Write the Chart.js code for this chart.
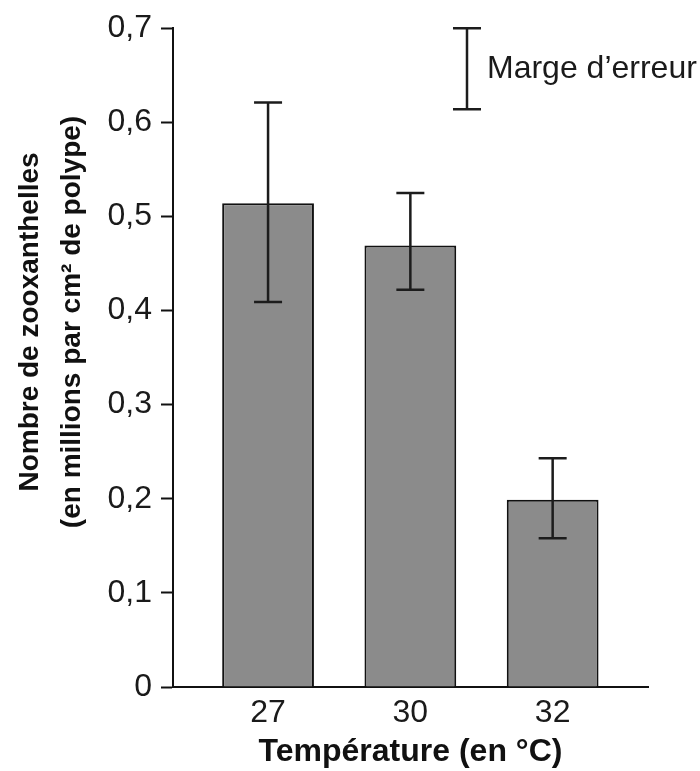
<!DOCTYPE html>
<html lang="fr">
  <head>
    <meta charset="UTF-8" />
    <title>Zooxanthelles</title>
    <style>
      body { margin: 0; background: #fff; }
      #box { width: 700px; height: 771px; }
    </style>
  </head>
  <body>
    <div id="box"><canvas id="graphe"></canvas></div>
    <script src="https://cdn.jsdelivr.net/npm/chart.js"></script>
    <script>
      // donnees
      var temperatures = ["27", "30", "32"];
      var moyennes = [0.514, 0.469, 0.199];
      var erreurHaut = [0.621, 0.525, 0.243];
      var erreurBas = [0.409, 0.422, 0.158];
      var ticksY = [0, 0.1, 0.2, 0.3, 0.4, 0.5, 0.6, 0.7];
      var titreY = ["Nombre de zooxanthelles", "(en millions par cm² de polype)"];

      var police = "'Liberation Sans', Arial, sans-serif";
      Chart.defaults.font.family = police;
      Chart.defaults.color = "#1a1a1a";

      function trait(ctx, px, haut, bas) {
        ctx.beginPath();
        ctx.moveTo(px, haut);
        ctx.lineTo(px, bas);
        ctx.moveTo(px - 14, haut);
        ctx.lineTo(px + 14, haut);
        ctx.moveTo(px - 14, bas);
        ctx.lineTo(px + 14, bas);
        ctx.stroke();
      }

      // barres d'erreur dessinees a partir des echelles
      const barresErreur = {
        id: "barresErreur",
        afterDatasetsDraw(chart) {
          const ctx = chart.ctx;
          const x = chart.scales.x;
          const y = chart.scales.y;
          ctx.save();
          ctx.strokeStyle = "#1c1c1c";
          ctx.lineWidth = 2.5;
          for (var i = 0; i < temperatures.length; i++) {
            trait(ctx, x.getPixelForValue(i), y.getPixelForValue(erreurHaut[i]), y.getPixelForValue(erreurBas[i]));
          }
          ctx.restore();
        },
      };

      // legende "Marge d'erreur" + titre de l'axe y
      const textes = {
        id: "textes",
        afterDraw(chart) {
          const ctx = chart.ctx;
          const zone = chart.chartArea;
          var px = zone.right - 181;
          ctx.save();
          ctx.strokeStyle = "#1c1c1c";
          ctx.lineWidth = 2.5;
          trait(ctx, px, zone.top, zone.top + 81);
          ctx.fillStyle = "#1a1a1a";
          ctx.font = "32px " + police;
          ctx.textBaseline = "alphabetic";
          ctx.fillText("Marge d\u2019erreur", px + 20, zone.top + 50);

          // titre y sur deux lignes, un peu au-dessus du centre
          ctx.translate(0, 322);
          ctx.rotate(-Math.PI / 2);
          ctx.fillStyle = "#111";
          ctx.font = "bold 28px " + police;
          ctx.textAlign = "center";
          ctx.textBaseline = "middle";
          ctx.fillText(titreY[0], 0, 30);
          ctx.fillText(titreY[1], 0, 72);
          ctx.restore();
        },
      };

      const data = {
        datasets: [
          {
            label: "Nombre de zooxanthelles",
            data: moyennes.map(function (v, i) { return { x: i, y: v }; }),
            backgroundColor: "#8b8b8b",
            borderColor: "#111",
            borderWidth: 2,
            categoryPercentage: 1,
            barPercentage: 0.645,
          },
        ],
      };

      const config = {
        type: "bar",
        data: data,
        options: {
          responsive: true,
          maintainAspectRatio: false,
          animation: false,
          layout: { padding: { top: 24, right: 52, left: 0, bottom: 0 } },
          plugins: {
            legend: { display: false },
            tooltip: { enabled: false },
          },
          scales: {
            x: {
              type: "linear",
              offset: false,
              min: -0.668,
              max: 2.67,
              afterBuildTicks: function (scale) {
                scale.ticks = temperatures.map(function (t, i) { return { value: i }; });
              },
              afterFit: function (scale) { scale.height = 84; },
              grid: { display: true, drawOnChartArea: false, drawTicks: false, offset: false },
              border: { display: true, color: "#111", width: 2 },
              ticks: {
                padding: 7,
                font: { size: 32 },
                callback: function (v) { return temperatures[v]; },
              },
              title: {
                display: true,
                text: "Température (en °C)",
                font: { size: 32, weight: "bold", lineHeight: 1.2 },
                color: "#111",
                padding: { top: 0, bottom: 0 },
              },
            },
            y: {
              min: 0,
              max: 0.7,
              afterBuildTicks: function (scale) {
                scale.ticks = ticksY.map(function (v) { return { value: v }; });
              },
              afterFit: function (scale) { scale.width = 173; },
              grid: {
                drawOnChartArea: false,
                drawTicks: true,
                tickLength: 12,
                tickWidth: 2,
                tickColor: "#111",
              },
              border: { display: true, color: "#111", width: 2 },
              ticks: {
                padding: 9,
                font: { size: 32 },
                callback: function (v) {
                  return v === 0 ? "0" : v.toFixed(1).replace(".", ",");
                },
              },
            },
          },
        },
        plugins: [barresErreur, textes],
      };

      const graphe = new Chart(document.getElementById("graphe"), config);
    </script>
  </body>
</html>
